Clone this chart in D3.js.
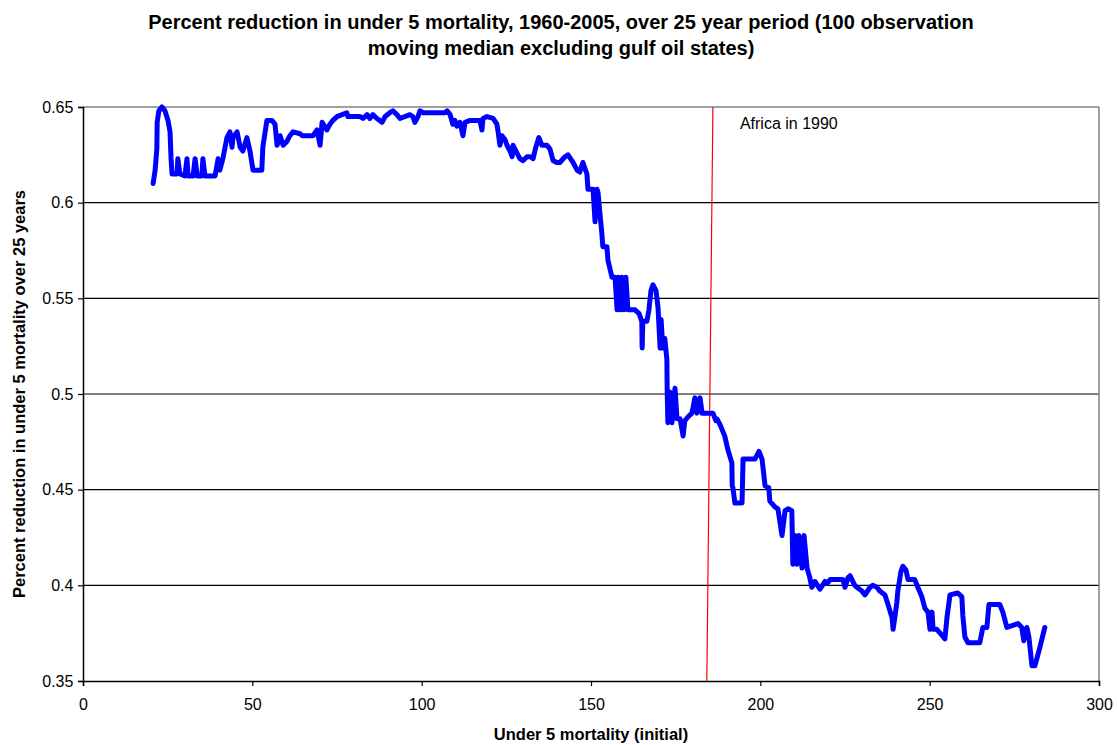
<!DOCTYPE html>
<html>
<head>
<meta charset="utf-8">
<script src="https://cdn.jsdelivr.net/npm/d3@7"></script>
<style>
  body { margin: 0; background: #fff; }
  text { font-family: Arial, "Liberation Sans", sans-serif; }
</style>
</head>
<body>
<div id="chart"></div>
<script>
// Chart size
var svgWidth = 1117;
var svgHeight = 745;

var margin = { top: 107, right: 18, bottom: 64, left: 83 };
var width = svgWidth - margin.left - margin.right;
var height = svgHeight - margin.top - margin.bottom;

// Data: initial under 5 mortality and moving median reduction
var mortality = [20.7, 21.3, 21.8, 21.9, 22.4, 23.3, 24.2, 25.1, 25.7, 26.0, 26.3, 27.8, 28.0, 28.6, 30.1, 30.7, 31.0, 32.5, 33.1, 33.7,
  35.1, 35.4, 36.0, 39.0, 39.9, 40.4, 41.3, 42.5, 43.4, 44.0, 44.3, 45.5, 46.4, 47.2, 48.4, 49.3, 50.2, 51.4, 52.8, 53.1,
  54.3, 55.8, 56.7, 57.3, 58.2, 59.1, 60.2, 61.1, 62.0, 64.1, 64.7, 67.9, 69.1, 70.0, 70.6, 72.0, 72.9, 73.8, 75.0, 77.9,
  78.2, 81.8, 82.7, 83.9, 84.7, 85.6, 86.8, 88.3, 89.2, 90.6, 91.5, 92.7, 93.6, 96.5, 97.4, 98.0, 98.9, 99.5, 100.4, 106.9,
  107.5, 108.4, 109.2, 109.8, 110.4, 111.3, 112.2, 112.8, 114.3, 117.2, 117.8, 118.1, 119.3, 121.1, 122.2, 122.5, 123.1, 123.7, 124.6, 125.2,
  126.1, 126.7, 127.0, 128.1, 129.0, 129.9, 131.1, 132.0, 132.9, 133.7, 134.6, 135.5, 137.0, 137.9, 138.8, 139.9, 140.8, 142.3, 143.2, 144.7,
  145.9, 146.7, 147.6, 148.8, 149.1, 150.6, 151.2, 151.8, 152.1, 152.6, 153.2, 153.5, 154.7, 155.0, 156.2, 157.1, 157.7, 158.0, 158.8, 159.1,
  159.7, 160.3, 160.9, 163.0, 164.2, 165.0, 165.1, 165.3, 166.5, 167.1, 167.7, 168.3, 169.2, 169.8, 170.4, 170.7, 171.2, 171.8, 172.4, 172.5,
  172.7, 173.3, 173.9, 174.8, 175.4, 176.3, 177.2, 177.7, 178.6, 179.8, 180.7, 181.3, 182.2, 182.8, 186.0, 186.9, 187.2, 188.1, 189.5, 190.4,
  191.6, 191.7, 191.9, 192.5, 194.6, 194.9, 198.4, 199.6, 200.5, 201.4, 202.5, 202.8, 204.3, 205.2, 206.4, 207.3, 208.2, 209.3, 209.6, 210.2,
  210.8, 211.4, 212.3, 212.9, 213.8, 214.6, 215.2, 216.1, 217.6, 219.1, 219.7, 220.6, 224.4, 225.0, 225.9, 226.5, 227.9, 228.5, 230.0, 230.9,
  232.4, 233.2, 234.4, 235.3, 236.8, 237.7, 238.9, 239.2, 239.7, 240.3, 240.6, 241.5, 242.1, 243.0, 243.6, 245.6, 246.5, 247.7, 248.6, 249.5,
  250.1, 250.7, 251.0, 252.1, 253.6, 254.5, 255.1, 256.0, 258.3, 259.5, 259.8, 260.4, 261.3, 264.8, 265.7, 266.9, 267.5, 270.7, 271.6, 272.8,
  276.1, 277.2, 277.8, 278.7, 279.3, 280.2, 281.1, 282.6, 284.0];

var reduction = [0.610, 0.617, 0.628, 0.642, 0.648, 0.650, 0.648, 0.643, 0.637, 0.623, 0.615, 0.615, 0.623, 0.615, 0.614, 0.623, 0.614, 0.614, 0.623, 0.614,
  0.614, 0.623, 0.614, 0.614, 0.623, 0.617, 0.623, 0.634, 0.637, 0.629, 0.634, 0.637, 0.629, 0.627, 0.634, 0.627, 0.617, 0.617, 0.617, 0.629,
  0.643, 0.643, 0.641, 0.630, 0.635, 0.630, 0.632, 0.635, 0.637, 0.636, 0.635, 0.635, 0.638, 0.630, 0.642, 0.638, 0.641, 0.643, 0.645, 0.647,
  0.645, 0.645, 0.644, 0.646, 0.644, 0.646, 0.644, 0.642, 0.645, 0.647, 0.648, 0.646, 0.644, 0.646, 0.645, 0.642, 0.645, 0.648, 0.647, 0.647,
  0.648, 0.646, 0.641, 0.643, 0.640, 0.642, 0.635, 0.642, 0.643, 0.643, 0.638, 0.644, 0.645, 0.644, 0.641, 0.638, 0.630, 0.635, 0.633, 0.630,
  0.627, 0.624, 0.630, 0.626, 0.623, 0.622, 0.624, 0.624, 0.623, 0.629, 0.634, 0.630, 0.630, 0.628, 0.622, 0.621, 0.621, 0.624, 0.625, 0.621,
  0.617, 0.616, 0.621, 0.615, 0.607, 0.607, 0.590, 0.607, 0.605, 0.595, 0.584, 0.577, 0.577, 0.570, 0.561, 0.561, 0.544, 0.561, 0.544, 0.561,
  0.544, 0.561, 0.544, 0.544, 0.542, 0.538, 0.524, 0.538, 0.538, 0.544, 0.554, 0.557, 0.554, 0.545, 0.524, 0.539, 0.524, 0.529, 0.518, 0.501,
  0.485, 0.501, 0.485, 0.503, 0.487, 0.487, 0.478, 0.486, 0.488, 0.490, 0.498, 0.490, 0.498, 0.490, 0.490, 0.486, 0.487, 0.484, 0.478, 0.471,
  0.464, 0.452, 0.451, 0.443, 0.443, 0.466, 0.466, 0.470, 0.466, 0.452, 0.451, 0.444, 0.441, 0.440, 0.426, 0.439, 0.440, 0.439, 0.411, 0.426,
  0.411, 0.426, 0.409, 0.426, 0.409, 0.404, 0.399, 0.402, 0.398, 0.402, 0.401, 0.403, 0.403, 0.399, 0.404, 0.405, 0.400, 0.399, 0.397, 0.395,
  0.399, 0.400, 0.399, 0.397, 0.395, 0.390, 0.383, 0.377, 0.383, 0.391, 0.397, 0.407, 0.410, 0.408, 0.403, 0.403, 0.399, 0.394, 0.388, 0.386,
  0.377, 0.386, 0.377, 0.377, 0.374, 0.372, 0.383, 0.395, 0.396, 0.394, 0.384, 0.373, 0.370, 0.370, 0.378, 0.378, 0.390, 0.390, 0.386, 0.378,
  0.380, 0.378, 0.371, 0.378, 0.373, 0.358, 0.358, 0.368, 0.378];

// Reference line for Africa in 1990
var africaX = [184.2, 186.0];
var africaY = [0.35, 0.65];
var africaLabel = "Africa in 1990";

var xTicks = [0, 50, 100, 150, 200, 250, 300];
var yTicks = [0.35, 0.4, 0.45, 0.5, 0.55, 0.6, 0.65];

var titleLines = ["Percent reduction in under 5 mortality, 1960-2005, over 25 year period (100 observation",
  "moving median excluding gulf oil states)"];

var lineData = mortality.map(function(d, i) { return { x: d, y: reduction[i] }; });

var svg = d3.select("#chart")
  .append("svg")
  .attr("width", svgWidth)
  .attr("height", svgHeight);

var chartGroup = svg.append("g")
  .attr("transform", `translate(${margin.left}, ${margin.top})`);

var xScale = d3.scaleLinear().domain([0, 300]).range([0, width]);
var yScale = d3.scaleLinear().domain([0.35, 0.65]).range([height, 0]);

// gridlines
chartGroup.selectAll(".grid")
  .data(yTicks.slice(1))
  .enter()
  .append("line")
  .attr("x1", 0)
  .attr("x2", width)
  .attr("y1", d => yScale(d))
  .attr("y2", d => yScale(d))
  .attr("stroke", d => d === 0.65 ? "#808080" : "#000")
  .attr("stroke-width", d => d === 0.65 ? 1.5 : 1.2);

// right border
chartGroup.append("line")
  .attr("x1", width).attr("x2", width)
  .attr("y1", 0).attr("y2", height)
  .attr("stroke", "#808080")
  .attr("stroke-width", 1.5);

// axes
var bottomAxis = d3.axisBottom(xScale).tickValues(xTicks).tickSize(5).tickFormat(d3.format("d"));
var leftAxis = d3.axisLeft(yScale).tickValues(yTicks).tickSize(5).tickFormat(d => d3.format("")(+d.toFixed(2)));

var xAxis = chartGroup.append("g")
  .attr("transform", `translate(0, ${height})`)
  .call(bottomAxis);
xAxis.selectAll("text").attr("dy", "1.3em");

var yAxis = chartGroup.append("g").call(leftAxis);
yAxis.selectAll("text").attr("dx", "-0.1em");

[xAxis, yAxis].forEach(function(ax) {
  ax.select(".domain").attr("stroke", "#000").attr("stroke-width", 1.5);
  ax.selectAll(".tick line").attr("stroke", "#000").attr("stroke-width", 1.2);
  ax.selectAll("text").attr("font-size", "16px").attr("fill", "#000")
    .style("font-family", "Arial, 'Liberation Sans', sans-serif");
});

// red reference line
chartGroup.append("line")
  .attr("x1", xScale(africaX[0]))
  .attr("y1", yScale(africaY[0]))
  .attr("x2", xScale(africaX[1]))
  .attr("y2", yScale(africaY[1]))
  .attr("stroke", "#ff0000")
  .attr("stroke-width", 1.2);

chartGroup.append("text")
  .attr("x", xScale(africaX[1]) + 27)
  .attr("y", 22)
  .attr("font-size", "16px")
  .text(africaLabel);

// blue median line
var line = d3.line()
  .x(d => xScale(d.x))
  .y(d => yScale(d.y));

chartGroup.append("path")
  .datum(lineData)
  .attr("fill", "none")
  .attr("stroke", "#0000ff")
  .attr("stroke-width", 5)
  .attr("stroke-linejoin", "round")
  .attr("stroke-linecap", "round")
  .attr("d", line);

// title
svg.append("g")
  .selectAll("text")
  .data(titleLines)
  .enter()
  .append("text")
  .attr("x", 561)
  .attr("y", (d, i) => 29 + i * 26)
  .attr("text-anchor", "middle")
  .attr("font-size", "20px")
  .attr("font-weight", "bold")
  .text(d => d);

// axis labels
svg.append("text")
  .attr("x", margin.left + width / 2)
  .attr("y", 740)
  .attr("text-anchor", "middle")
  .attr("font-size", "16.5px")
  .attr("font-weight", "bold")
  .text("Under 5 mortality (initial)");

svg.append("text")
  .attr("transform", "rotate(-90)")
  .attr("x", -394)
  .attr("y", 25)
  .attr("text-anchor", "middle")
  .attr("font-size", "16.5px")
  .attr("font-weight", "bold")
  .text("Percent reduction in under 5 mortality over 25 years");
</script>
</body>
</html>
